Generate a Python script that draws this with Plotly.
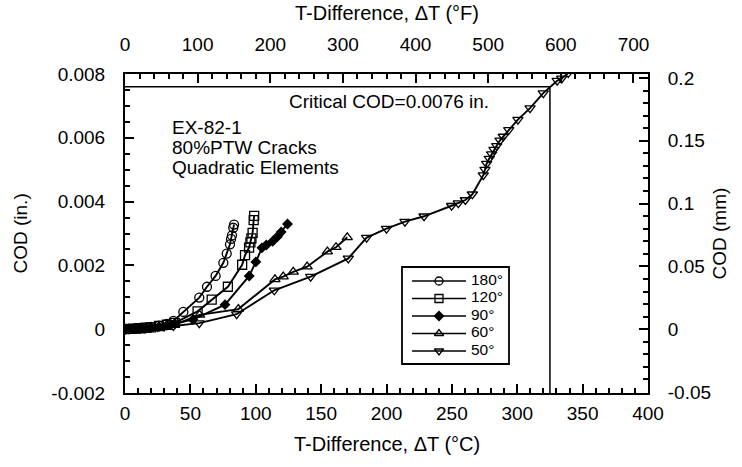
import plotly.graph_objects as go

# COD versus temperature difference for each crack angle (deg C, inches)
t_180 = [0, 3, 8, 12, 16, 20, 26, 32, 37, 44.6, 56.8, 62.7, 69.3, 75.2, 77.8, 80.3, 81.1, 81.8, 82.8, 83.4]
cod_180 = [0, 0.00001, 0.00003, 0.00004, 0.00005, 0.00007, 0.00011, 0.00017, 0.00026, 0.00054,
           0.00099, 0.00133, 0.00167, 0.00208, 0.00237, 0.00266, 0.00283, 0.00294, 0.00318, 0.00328]

t_120 = [0, 3, 8, 12, 16, 20, 26, 32, 38, 55.5, 66.3, 78.7, 89.6, 91.8, 94.9, 95.9, 96.7, 97.6, 98.4, 98.8]
cod_120 = [0, 0.00001, 0.00002, 0.00003, 0.00005, 0.00006, 0.0001, 0.00014, 0.0002, 0.00056,
           0.00093, 0.00133, 0.00202, 0.00232, 0.00256, 0.00272, 0.00285, 0.00302, 0.00342, 0.00355]

t_90 = [0, 3, 8, 12, 16, 20, 26, 32, 38, 52, 76.5, 95, 100.1, 104.7, 108.1, 113, 116.5, 119.5, 124.3]
cod_90 = [0, 0.00001, 0.00002, 0.00003, 0.00004, 0.00005, 0.00008, 0.00012, 0.00017, 0.0003,
          0.00077, 0.00167, 0.00211, 0.00255, 0.00264, 0.00276, 0.0029, 0.00305, 0.0033]

t_60 = [0, 3, 8, 12, 16, 20, 26, 32, 38, 57, 86.7, 114.7, 121, 128.7, 139.3, 154.8, 161.4, 170]
cod_60 = [0, 0.00001, 0.00002, 0.00003, 0.00004, 0.00005, 0.00007, 0.0001, 0.00014, 0.00045,
          0.00063, 0.00156, 0.00165, 0.0018, 0.00196, 0.00243, 0.00257, 0.00288]

t_50 = [0, 3, 8, 12, 15, 19, 25, 30, 37, 56.8, 85.4, 114.2, 142, 170.8, 184.8, 200, 214.1, 228.7,
        249.8, 254.9, 260.3, 265.7, 274, 275.3, 276.6, 278.6, 280.4, 282.2, 284.3, 286.8, 289.3,
        293.5, 300.5, 309.8, 319.9, 330.5, 334, 339]
cod_50 = [0, 0.00001, 0.00002, 0.00003, 0.00004, 0.00005, 0.00007, 0.00009, 0.0001, 0.00019,
          0.00047, 0.00122, 0.00165, 0.00222, 0.00287, 0.00315, 0.00337, 0.00354, 0.00387, 0.00395,
          0.00405, 0.00423, 0.00483, 0.005, 0.00519, 0.00535, 0.00549, 0.00563, 0.00575, 0.00592,
          0.00604, 0.00625, 0.00657, 0.00693, 0.0074, 0.00779, 0.00786, 0.00803]

series_names = ["180°", "120°", "90°", "60°", "50°"]
series_t = [t_180, t_120, t_90, t_60, t_50]
series_cod = [cod_180, cod_120, cod_90, cod_60, cod_50]
series_symbols = ["circle-open", "square-open", "diamond", "triangle-up-open", "triangle-down-open"]

critical_cod = 0.0076
critical_t = 325

# axis ranges and tick labels
x_c_range = [0, 400]
x_f_range = [0, 720]
y_in_range = [-0.002, 0.008]
y_mm_range = [-0.0508, 0.2032]
y_in_ticks = [-0.002, 0, 0.002, 0.004, 0.006, 0.008]
y_in_labels = ["-0.002", "0", "0.002", "0.004", "0.006", "0.008"]
y_mm_ticks = [-0.05, 0, 0.05, 0.1, 0.15, 0.2]
y_mm_labels = ["-0.05", "0", "0.05", "0.1", "0.15", "0.2"]

FONT = "Liberation Sans, Arial, Helvetica, sans-serif"
FS = 19
FS_TITLE = 20
FS_IN = 19
FS_LEG = 15.5
W, H = 742, 467
L, R, T, B = 125, 94, 74, 74
PX0, PX1 = L, W - R
PY0, PY1 = T, H - B


def px(x):
    return (x - PX0) / (PX1 - PX0)


def py(y):
    return (PY1 - y) / (PY1 - PY0)


fig = go.Figure()

for name, t, c, sym in zip(series_names, series_t, series_cod, series_symbols):
    fig.add_trace(go.Scatter(
        x=t, y=c, mode="lines+markers", name=name, showlegend=False,
        line=dict(color="black", width=1.9),
        marker=dict(symbol=sym, size=9 if sym != "diamond" else 7, color="black",
                    line=dict(color="black", width=1.3)),
    ))

# critical COD level and the temperature where it is reached
fig.add_trace(go.Scatter(
    x=[0, critical_t, critical_t], y=[critical_cod, critical_cod, y_in_range[0]],
    mode="lines", line=dict(color="black", width=1.5), showlegend=False, hoverinfo="skip",
))

# secondary unit axes (deg F on top, mm on right)
fig.add_trace(go.Scatter(x=[], y=[], xaxis="x2", yaxis="y2", showlegend=False))

# legend drawn in a pixel-based overlay axis
leg_rows = [281, 298.5, 316, 333.5, 351]
for name, sym, yr in zip(series_names, series_symbols, leg_rows):
    fig.add_trace(go.Scatter(
        x=[412, 466], y=[yr, yr], xaxis="x3", yaxis="y3", mode="lines",
        line=dict(color="black", width=1.5), showlegend=False, hoverinfo="skip", cliponaxis=False,
    ))
    fig.add_trace(go.Scatter(
        x=[439], y=[yr], xaxis="x3", yaxis="y3", mode="markers",
        marker=dict(symbol=sym, size=8 if sym != "diamond" else 7, color="black",
                    line=dict(color="black", width=1.3)),
        showlegend=False, hoverinfo="skip", cliponaxis=False,
    ))
fig.add_trace(go.Scatter(
    x=[471] * len(series_names), y=leg_rows, xaxis="x3", yaxis="y3", mode="text",
    text=series_names, textposition="middle right",
    textfont=dict(family=FONT, size=FS_LEG, color="black"),
    showlegend=False, hoverinfo="skip", cliponaxis=False,
))

fig.add_shape(type="rect", xref="x3", yref="y3", x0=402, x1=509, y0=267, y1=364,
              line=dict(color="black", width=1.8))

axis_common = dict(
    showline=True, linecolor="black", linewidth=2, mirror=False, showgrid=False, zeroline=False,
    ticks="inside", ticklen=9, tickwidth=1.5, tickcolor="black",
    tickfont=dict(family=FONT, size=FS, color="black"),
)

fig.update_layout(
    width=W, height=H,
    margin=dict(l=L, r=R, t=T, b=B),
    paper_bgcolor="white", plot_bgcolor="white",
    font=dict(family=FONT, size=FS, color="black"),
    showlegend=False,
    xaxis=dict(range=x_c_range, tick0=0, dtick=50, side="bottom", anchor="y",
               minor=dict(ticks="inside", ticklen=5, dtick=10, tickwidth=1.5, tickcolor="black"),
               ticklabelstandoff=2, **axis_common),
    xaxis2=dict(range=x_f_range, tick0=0, dtick=100, side="top", overlaying="x", anchor="y",
                minor=dict(ticks="inside", ticklen=5, dtick=20, tickwidth=1.5, tickcolor="black"),
                ticklabelstandoff=13, **axis_common),
    yaxis=dict(range=y_in_range, tickvals=y_in_ticks, ticktext=y_in_labels, side="left", anchor="x",
               minor=dict(ticks="inside", ticklen=5, dtick=0.0005, tick0=0, tickwidth=1.5, tickcolor="black"),
               ticklabelstandoff=14, **axis_common),
    yaxis2=dict(range=y_mm_range, tickvals=y_mm_ticks, ticktext=y_mm_labels, side="right",
                overlaying="y", anchor="x",
                minor=dict(ticks="inside", ticklen=5, dtick=0.01, tick0=0, tickwidth=1.5, tickcolor="black"),
                ticklabelstandoff=14, **axis_common),
    xaxis3=dict(range=[PX0, PX1], overlaying="x", visible=False, fixedrange=True, anchor="y3"),
    yaxis3=dict(range=[PY1, PY0], overlaying="y", visible=False, fixedrange=True, anchor="x3"),
)

txt = dict(xref="paper", yref="paper", showarrow=False)
# axis titles
fig.add_annotation(x=px((PX0 + PX1) / 2), y=py(444), text="T-Difference, ΔT (°C)", xanchor="center",
                   yanchor="middle", font=dict(family=FONT, size=FS_TITLE, color="black"), **txt)
fig.add_annotation(x=px((PX0 + PX1) / 2), y=py(13), text="T-Difference, ΔT (°F)", xanchor="center",
                   yanchor="middle", font=dict(family=FONT, size=FS_TITLE, color="black"), **txt)
fig.add_annotation(x=px(20), y=py((PY0 + PY1) / 2), text="COD (in.)", textangle=-90, xanchor="center",
                   yanchor="middle", font=dict(family=FONT, size=FS, color="black"), **txt)
fig.add_annotation(x=px(719), y=py((PY0 + PY1) / 2), text="COD (mm)", textangle=-90, xanchor="center",
                   yanchor="middle", font=dict(family=FONT, size=FS, color="black"), **txt)

# in-plot labels
fig.add_annotation(x=px(287), y=py(101), text="Critical COD=0.0076 in.", xanchor="left", yanchor="middle",
                   font=dict(family=FONT, size=FS_IN, color="black"), **txt)
for i, line in enumerate(["EX-82-1", "80%PTW Cracks", "Quadratic Elements"]):
    fig.add_annotation(x=px(170), y=py(127 + 20 * i), text=line, xanchor="left", yanchor="middle",
                       font=dict(family=FONT, size=FS_IN, color="black"), **txt)

fig.write_html("out.html")
